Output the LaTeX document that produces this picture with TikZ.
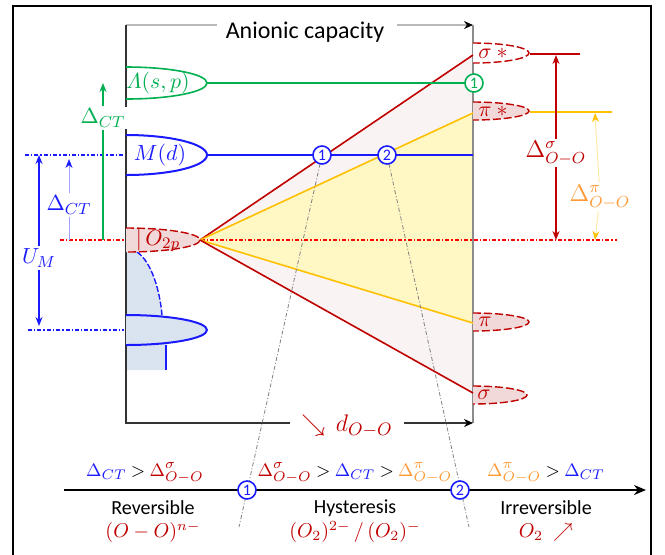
\documentclass[tikz,border=0pt]{standalone}
\usepackage{amsmath}
\usepackage{fontspec}
\setmainfont{Carlito}
\usepackage{xcolor}
\usetikzlibrary{arrows.meta, positioning}

\definecolor{cGreen}{HTML}{00B050}
\definecolor{cBlue}{HTML}{1A1AFF}
\definecolor{cRed}{HTML}{C00000}
\definecolor{cOrange}{HTML}{FFC000}
\definecolor{cOrangeTxt}{HTML}{FF9933}
\definecolor{cPink}{HTML}{FAF3F3}
\definecolor{cYellow}{HTML}{FFF8C4}
\definecolor{cLobe}{HTML}{F2D9D9}
\definecolor{cDos}{HTML}{DAE3F0}

\begin{document}
\begin{tikzpicture}[
  x=0.5pt, y=-0.5pt,
  every node/.style={font=\fontsize{11}{13}\selectfont},
  level/.style={line width=0.8pt, draw=#1},
  lobe/.style={line width=0.8pt, draw=#1},
  olobe/.style={line width=0.7pt, draw=cRed, dash pattern=on 4pt off 1.5pt},
  circ/.style={circle, draw=#1, text=#1, fill=white, line width=0.8pt,
    inner sep=0pt, minimum size=9pt, font=\fontsize{8}{8}\selectfont},
  gap/.style={fill=white, inner sep=1pt, text=#1},
  cond/.style={inner sep=0.5pt, font=\fontsize{9.5}{10}\selectfont},
  regime/.style={inner sep=0.5pt, font=\fontsize{10}{11}\selectfont},
  guide/.style={draw=#1, line width=0.6pt, dash pattern=on 2pt off 1pt on 0.7pt off 1pt},
  graydash/.style={draw=gray, line width=0.4pt, dash pattern=on 2pt off 1pt on 0.5pt off 1pt},
  axis/.style={line width=0.7pt, draw=#1},
  arr/.style={-{Stealth[length=4.5pt,width=3.5pt,#1]}, line width=0.7pt, draw=#1}
]
\useasboundingbox (0,0) rectangle (665,554);

%% ── FRAME ───────────────────────────────────────────────
\draw[line width=1pt] (13,6) rectangle (651,570);

%% ── LEVEL POINTS ────────────────────────────────────────
\coordinate (apex) at (200,240);
\coordinate (sigS) at (473,55);
\coordinate (piS)  at (473,113);
\coordinate (piB)  at (473,323);
\coordinate (sigB) at (473,393);
\coordinate (Lam)  at (126,83);
\coordinate (Md)   at (126,155);
\coordinate (Otwo) at (126,240);

%% ── BAND FILLS ──────────────────────────────────────────
\fill[cPink]   (apex) -- (sigS) -- (sigB) -- cycle;
\fill[cYellow] (apex) -- (piS) -- (piB) -- cycle;

%% metal DOS below O2p
\fill[cDos] (126,252) -- (137,252) .. controls (152,262) and (160,292) .. (162,315)
  -- (166,345) -- (166,370) -- (126,370) -- cycle;
\draw[cBlue, line width=0.7pt, dash pattern=on 3pt off 1pt]
  (137,252) .. controls (152,262) and (160,292) .. (162,315);
\draw[cBlue, line width=0.7pt] (166,345) -- (166,370);

%% dashed guide lines
\draw[guide=cBlue] (25,155) -- (Md);
\draw[guide=cBlue] (28,330) -- (124,330);
\draw[guide=red]   (60,240) -- (617,240);

%% ── AXES ────────────────────────────────────────────────
\node (cap) at (305,32) {\fontsize{12}{14}\selectfont Anionic capacity};
\draw[axis=gray!55] (126,25) -- (217,25);
\draw[axis=gray!55, -{Stealth[length=4.5pt,width=4pt,black]}] (397,25) -- (473,25);
\draw[axis=black!80] (126,25) -- (126,423) -- (290,423);
\draw[axis=gray!90] (473,25) -- (473,423);
\node[text=cRed, font=\fontsize{13}{15}\selectfont] (dOO) at (347,426) {$\searrow\,d_{O-O}$};
\draw[axis=black!80, -{Stealth[length=4.5pt,width=4pt,black]}] (404,423) -- (473,423);

%% ── LEFT LOBES ──────────────────────────────────────────
\draw[lobe=cGreen] (126,67) arc[start angle=90, end angle=-90, x radius=40.5pt, y radius=8pt];
\draw[lobe=cBlue, line width=1pt] (126,135) arc[start angle=90, end angle=-90, x radius=40.5pt, y radius=10pt];
\draw[olobe, fill=cLobe] (126,228) arc[start angle=90, end angle=-90, x radius=37pt, y radius=6pt];
\draw[lobe=cBlue, line width=1pt, fill=cDos] (126,315) arc[start angle=90, end angle=-90, x radius=40.5pt, y radius=7.5pt];

\node[text=cGreen] (lamL) at (158,83)  {$\varLambda(s,p)$};
\node[text=cBlue]  (mdL)  at (160,155) {$M(d)$};
\node[text=cRed]   (o2L)  at (158,240) {$|\,O_{2p}$};

%% ── RIGHT LOBES ─────────────────────────────────────────
\draw[olobe, fill=white] (473,43)  arc[start angle=90, end angle=-90, x radius=28pt, y radius=5pt];
\draw[olobe, fill=cLobe] (473,102) arc[start angle=90, end angle=-90, x radius=28pt, y radius=4.5pt];
\draw[olobe, fill=cLobe] (473,313) arc[start angle=90, end angle=-90, x radius=28pt, y radius=4.5pt];
\draw[olobe, fill=cLobe] (473,386) arc[start angle=90, end angle=-90, x radius=27pt, y radius=4.5pt];

\node[text=cRed] (sigSL) at (493,53)  {$\sigma\ *$};
\node[text=cRed] (piSL)  at (493,111) {$\pi\ *$};
\node[text=cRed] (piL)   at (485,322) {$\pi$};
\node[text=cRed] (sigL)  at (484,395) {$\sigma$};

\draw[level=cRed]    (530,54)  -- (580,54);
\draw[level=cOrange, line width=1pt] (530,112) -- (612,112);

%% ── BANDS FROM O2p ──────────────────────────────────────
\draw[level=cRed]    (apex) -- (sigS);
\draw[level=cOrange] (apex) -- (piS);
\draw[level=cOrange] (apex) -- (piB);
\draw[level=cRed]    (apex) -- (sigB);

%% ── CROSSINGS ───────────────────────────────────────────
\coordinate (b1) at (322,155);
\coordinate (b2) at (387,155);
\coordinate (c1) at (247,490);
\coordinate (c2) at (460,490);

\draw[graydash] (b1) -- (239,527);
\draw[graydash] (b2) -- (469,527);

\draw[level=cGreen] (207,83) -- (474,83);
\node[circ=cGreen] (g1) at (474,83) {1};
\draw[level=cBlue] (207,155) -- (b1) -- (b2) -- (473,155);
\node[circ=cBlue] (n1) at (b1) {1};
\node[circ=cBlue] (n2) at (b2) {2};

%% ── ENERGY GAPS (left) ──────────────────────────────────
\node[gap=cBlue] (um) at (39,258) {$U_M$};
\draw[arr=cBlue] (um) -- (um |- Md);
\draw[arr=cBlue] (um) -- (39,326);

\node[gap=cBlue] (dctB) at (69,205) {$\Delta_{CT}$};
\draw[cBlue!40, line width=0.5pt, -{Stealth[length=4.5pt,width=3.5pt,cBlue]}] (dctB) -- (69,159);
\draw[cBlue!40, line width=0.5pt] (dctB) -- (dctB |- Otwo);

\node[gap=cGreen] (dctG) at (103,118) {$\Delta_{CT}$};
\draw[arr=cGreen] (dctG) -- (dctG |- Lam);
\draw[cGreen, line width=0.7pt] (dctG) -- (dctG |- Otwo);

%% ── ENERGY GAPS (right) ─────────────────────────────────
\node[gap=cRed] (dsig) at (556,153) {\fontsize{12}{14}\selectfont$\Delta^{\sigma}_{O-O}$};
\draw[arr=cRed] (dsig) -- (556,55);
\draw[arr=cRed] (dsig) -- (556,240);

\node[gap=cOrangeTxt] (dpi) at (600,197) {\fontsize{12}{14}\selectfont$\Delta^{\pi}_{O-O}$};
\draw[cOrange!35, line width=0.5pt, -{Stealth[length=4.5pt,width=3.5pt,cOrange]}] (dpi) -- (595,113);
\draw[cOrange!35, line width=0.5pt, -{Stealth[length=4.5pt,width=3.5pt,cOrange]}] (dpi) -- (595,240);

%% ── REGIME AXIS ─────────────────────────────────────────
\draw[line width=1.1pt, -{Stealth[length=6pt,width=5pt]}] (64,490) -- (c1) -- (c2) -- (646,490);
\node[circ=cBlue] (r1) at (c1) {1};
\node[circ=cBlue] (r2) at (c2) {2};

\node[cond] (cond1) at (145,473) {\textcolor{cBlue}{$\Delta_{CT}$} $>$ \textcolor{cRed}{$\Delta^{\sigma}_{O-O}$}};
\node[cond] (cond2) at (355,473) {\textcolor{cRed}{$\Delta^{\sigma}_{O-O}$} $>$ \textcolor{cBlue}{$\Delta_{CT}$} $>$ \textcolor{cOrangeTxt}{$\Delta^{\pi}_{O-O}$}};
\node[cond] (cond3) at (546,473) {\textcolor{cOrangeTxt}{$\Delta^{\pi}_{O-O}$} $>$ \textcolor{cBlue}{$\Delta_{CT}$}};

\node[regime] (rev)  at (153,508) {Reversible};
\node[regime] (hys)  at (355,508) {Hysteresis};
\node[regime] (irr)  at (546,508) {Irreversible};

\node[regime, text=cRed] (revF) at (153,532) {$(O-O)^{n-}$};
\node[regime, text=cRed] (hysF) at (355,532) {$(O_2)^{2-}\,/\,(O_2)^{-}$};
\node[regime, text=cRed] (irrF) at (546,532) {$O_2\ \nearrow$};

\end{tikzpicture}
\end{document}
